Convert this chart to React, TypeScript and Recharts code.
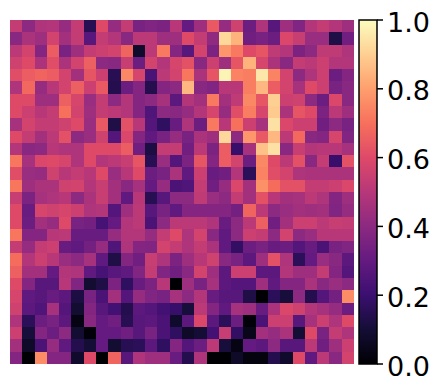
// Magma heatmap (28 x 28 cells, values 0..1) with a colourbar on the right.
import { Bar, BarChart, Scatter, ScatterChart, XAxis, YAxis } from 'recharts'

const gridSize = 28
const cellValues: number[][] = [
  [0.53, 0.40, 0.48, 0.49, 0.42, 0.53, 0.15, 0.60, 0.42, 0.53, 0.35, 0.37, 0.36, 0.50, 0.30, 0.44, 0.64, 0.42, 0.56, 0.32, 0.48, 0.27, 0.44, 0.37, 0.49, 0.53, 0.49, 0.44],
  [0.39, 0.47, 0.44, 0.57, 0.45, 0.53, 0.27, 0.53, 0.49, 0.39, 0.51, 0.51, 0.44, 0.44, 0.60, 0.53, 0.41, 0.92, 0.84, 0.33, 0.35, 0.32, 0.59, 0.54, 0.43, 0.43, 0.13, 0.33],
  [0.51, 0.57, 0.38, 0.65, 0.35, 0.44, 0.53, 0.55, 0.57, 0.67, 0.08, 0.51, 0.72, 0.38, 0.27, 0.57, 0.36, 0.78, 0.72, 0.60, 0.63, 0.52, 0.49, 0.36, 0.40, 0.52, 0.52, 0.48],
  [0.56, 0.60, 0.47, 0.61, 0.47, 0.57, 0.66, 0.40, 0.39, 0.54, 0.32, 0.57, 0.49, 0.58, 0.62, 0.39, 0.55, 0.44, 0.63, 0.84, 0.58, 0.47, 0.39, 0.53, 0.51, 0.55, 0.49, 0.49],
  [0.61, 0.65, 0.67, 0.65, 0.57, 0.45, 0.63, 0.55, 0.15, 0.75, 0.58, 0.24, 0.51, 0.57, 0.71, 0.47, 0.63, 0.98, 0.74, 0.73, 0.95, 0.74, 0.57, 0.40, 0.48, 0.55, 0.32, 0.38],
  [0.48, 0.68, 0.42, 0.50, 0.57, 0.66, 0.55, 0.64, 0.14, 0.32, 0.38, 0.14, 0.38, 0.40, 0.85, 0.39, 0.37, 0.50, 0.50, 0.73, 0.85, 0.65, 0.57, 0.46, 0.60, 0.55, 0.35, 0.39],
  [0.60, 0.60, 0.44, 0.44, 0.66, 0.58, 0.43, 0.53, 0.40, 0.49, 0.38, 0.40, 0.46, 0.28, 0.49, 0.45, 0.72, 0.45, 0.52, 0.75, 0.63, 0.90, 0.55, 0.56, 0.40, 0.32, 0.59, 0.39],
  [0.60, 0.55, 0.50, 0.53, 0.70, 0.57, 0.44, 0.53, 0.51, 0.49, 0.38, 0.25, 0.40, 0.39, 0.42, 0.49, 0.58, 0.42, 0.61, 0.73, 0.58, 0.89, 0.47, 0.63, 0.60, 0.36, 0.51, 0.44],
  [0.46, 0.57, 0.53, 0.53, 0.56, 0.60, 0.43, 0.64, 0.13, 0.62, 0.50, 0.26, 0.17, 0.31, 0.48, 0.32, 0.72, 0.50, 0.70, 0.55, 0.46, 0.94, 0.59, 0.55, 0.55, 0.33, 0.40, 0.35],
  [0.60, 0.53, 0.45, 0.51, 0.62, 0.40, 0.43, 0.56, 0.26, 0.59, 0.38, 0.29, 0.35, 0.42, 0.35, 0.47, 0.44, 0.92, 0.40, 0.78, 0.64, 0.85, 0.51, 0.68, 0.39, 0.38, 0.58, 0.37],
  [0.49, 0.39, 0.40, 0.50, 0.48, 0.48, 0.60, 0.60, 0.60, 0.65, 0.33, 0.12, 0.53, 0.53, 0.33, 0.51, 0.36, 0.65, 0.19, 0.46, 0.87, 0.94, 0.39, 0.54, 0.49, 0.50, 0.50, 0.46],
  [0.71, 0.46, 0.59, 0.60, 0.58, 0.48, 0.60, 0.49, 0.51, 0.54, 0.63, 0.15, 0.43, 0.26, 0.36, 0.63, 0.38, 0.65, 0.57, 0.32, 0.75, 0.60, 0.51, 0.62, 0.39, 0.53, 0.19, 0.62],
  [0.61, 0.43, 0.42, 0.56, 0.50, 0.53, 0.50, 0.60, 0.43, 0.50, 0.60, 0.32, 0.35, 0.47, 0.29, 0.55, 0.31, 0.33, 0.49, 0.16, 0.74, 0.61, 0.57, 0.48, 0.47, 0.47, 0.47, 0.47],
  [0.71, 0.44, 0.47, 0.47, 0.56, 0.57, 0.49, 0.54, 0.45, 0.39, 0.46, 0.30, 0.42, 0.24, 0.25, 0.53, 0.33, 0.42, 0.59, 0.45, 0.77, 0.69, 0.62, 0.62, 0.53, 0.53, 0.55, 0.59],
  [0.54, 0.36, 0.46, 0.48, 0.50, 0.40, 0.47, 0.54, 0.45, 0.29, 0.50, 0.15, 0.27, 0.40, 0.40, 0.52, 0.43, 0.40, 0.53, 0.45, 0.62, 0.50, 0.45, 0.46, 0.51, 0.48, 0.38, 0.44],
  [0.60, 0.31, 0.58, 0.56, 0.58, 0.55, 0.48, 0.49, 0.26, 0.44, 0.51, 0.27, 0.35, 0.29, 0.38, 0.38, 0.38, 0.38, 0.34, 0.67, 0.51, 0.40, 0.43, 0.45, 0.44, 0.45, 0.37, 0.42],
  [0.60, 0.32, 0.45, 0.42, 0.60, 0.35, 0.34, 0.23, 0.30, 0.49, 0.51, 0.24, 0.40, 0.51, 0.51, 0.51, 0.48, 0.31, 0.40, 0.51, 0.66, 0.33, 0.45, 0.55, 0.55, 0.51, 0.54, 0.53],
  [0.71, 0.38, 0.38, 0.50, 0.51, 0.31, 0.31, 0.31, 0.42, 0.49, 0.49, 0.42, 0.53, 0.60, 0.48, 0.57, 0.39, 0.29, 0.40, 0.55, 0.53, 0.40, 0.57, 0.40, 0.43, 0.50, 0.50, 0.50],
  [0.53, 0.42, 0.53, 0.55, 0.31, 0.29, 0.34, 0.42, 0.25, 0.48, 0.38, 0.37, 0.57, 0.53, 0.48, 0.53, 0.47, 0.29, 0.18, 0.32, 0.35, 0.31, 0.32, 0.26, 0.31, 0.24, 0.35, 0.37],
  [0.69, 0.49, 0.55, 0.50, 0.43, 0.40, 0.46, 0.29, 0.13, 0.38, 0.33, 0.54, 0.48, 0.36, 0.44, 0.50, 0.56, 0.39, 0.35, 0.28, 0.44, 0.62, 0.48, 0.16, 0.30, 0.43, 0.39, 0.28],
  [0.66, 0.45, 0.45, 0.30, 0.49, 0.48, 0.29, 0.23, 0.27, 0.29, 0.37, 0.53, 0.37, 0.33, 0.39, 0.57, 0.44, 0.28, 0.55, 0.55, 0.28, 0.28, 0.49, 0.44, 0.44, 0.53, 0.38, 0.26],
  [0.60, 0.38, 0.27, 0.27, 0.50, 0.37, 0.09, 0.13, 0.36, 0.17, 0.31, 0.36, 0.50, 0.00, 0.44, 0.35, 0.46, 0.28, 0.26, 0.26, 0.44, 0.29, 0.38, 0.38, 0.47, 0.39, 0.43, 0.40],
  [0.58, 0.29, 0.27, 0.31, 0.28, 0.12, 0.35, 0.24, 0.45, 0.26, 0.42, 0.37, 0.35, 0.46, 0.40, 0.49, 0.31, 0.27, 0.27, 0.13, 0.00, 0.16, 0.11, 0.40, 0.14, 0.26, 0.34, 0.76],
  [0.56, 0.28, 0.25, 0.46, 0.26, 0.09, 0.38, 0.27, 0.22, 0.14, 0.28, 0.26, 0.22, 0.19, 0.11, 0.51, 0.38, 0.29, 0.46, 0.44, 0.31, 0.47, 0.59, 0.56, 0.49, 0.46, 0.42, 0.32],
  [0.48, 0.16, 0.32, 0.35, 0.28, 0.03, 0.39, 0.30, 0.33, 0.15, 0.27, 0.28, 0.24, 0.08, 0.28, 0.59, 0.28, 0.16, 0.32, 0.01, 0.24, 0.55, 0.55, 0.27, 0.46, 0.55, 0.48, 0.60],
  [0.55, 0.11, 0.38, 0.32, 0.40, 0.09, 0.01, 0.30, 0.30, 0.33, 0.27, 0.35, 0.24, 0.17, 0.07, 0.10, 0.22, 0.54, 0.18, 0.04, 0.45, 0.42, 0.47, 0.10, 0.60, 0.35, 0.53, 0.48],
  [0.45, 0.07, 0.24, 0.42, 0.29, 0.14, 0.10, 0.30, 0.09, 0.15, 0.16, 0.28, 0.17, 0.38, 0.26, 0.32, 0.51, 0.11, 0.03, 0.30, 0.28, 0.40, 0.27, 0.27, 0.51, 0.33, 0.44, 0.55],
  [0.38, 0.00, 0.76, 0.38, 0.38, 0.08, 0.60, 0.00, 0.67, 0.27, 0.48, 0.44, 0.44, 0.31, 0.14, 0.48, 0.00, 0.00, 0.07, 0.02, 0.02, 0.14, 0.08, 0.60, 0.29, 0.51, 0.39, 0.57],
]
const colorbarTicks = [0, 0.2, 0.4, 0.6, 0.8, 1]
const colorbarData = [{ name: 'scale', value: 1 }]

// matplotlib magma, sampled every 0.1
const magma = [
  '#000004', '#140e36', '#3b0f70', '#641a80', '#8c2981', '#b73779',
  '#de4968', '#f7705c', '#fe9f6d', '#fecf92', '#fcfdbf',
]

function magmaColor(v: number) {
  const pos = Math.min(Math.max(v, 0), 1) * (magma.length - 1)
  const i = Math.min(Math.floor(pos), magma.length - 2)
  const t = pos - i
  const channel = (hex: string, at: number) => parseInt(hex.slice(at, at + 2), 16)
  const mix = (at: number) =>
    Math.round(channel(magma[i], at) * (1 - t) + channel(magma[i + 1], at) * t)
  return `rgb(${mix(1)},${mix(3)},${mix(5)})`
}

const cells = cellValues.flatMap((row, r) =>
  row.map((value, c) => ({ x: c + 0.5, y: r + 0.5, value })),
)

const plotSize = 344
const cellSize = plotSize / gridSize

function HeatCell(props: any) {
  const { cx, cy, payload } = props
  return (
    <rect
      x={cx - cellSize / 2}
      y={cy - cellSize / 2}
      width={cellSize}
      height={cellSize}
      fill={magmaColor(payload.value)}
      shapeRendering="crispEdges"
    />
  )
}

export default function App() {
  return (
    <div style={{ position: 'absolute', left: 0, top: 0, width: 439, height: 391, background: '#fff', overflow: 'hidden' }}>
      <div style={{ position: 'absolute', left: 10, top: 20 }}>
        <ScatterChart width={plotSize} height={plotSize} margin={{ top: 0, right: 0, bottom: 0, left: 0 }}>
          <XAxis type="number" dataKey="x" domain={[0, gridSize]} hide />
          <YAxis type="number" dataKey="y" domain={[0, gridSize]} reversed hide />
          <Scatter data={cells} shape={HeatCell} isAnimationActive={false} />
        </ScatterChart>
      </div>
      <div style={{ position: 'absolute', left: 349, top: 5 }}>
        <BarChart
          width={90}
          height={386}
          data={colorbarData}
          margin={{ top: 15, right: 0, bottom: 27, left: 10 }}
          barCategoryGap={0}
        >
          <defs>
            <linearGradient id="magmaScale" x1="0" y1="1" x2="0" y2="0">
              {magma.map((color, i) => (
                <stop key={color} offset={i / (magma.length - 1)} stopColor={color} />
              ))}
            </linearGradient>
          </defs>
          <XAxis dataKey="name" hide />
          <YAxis
            orientation="right"
            type="number"
            domain={[0, 1]}
            ticks={colorbarTicks}
            interval={0}
            width={62}
            axisLine={false}
            tickLine={{ stroke: '#000', strokeWidth: 1.5 }}
            tickSize={6}
            tickMargin={4}
            tickFormatter={(v: number) => v.toFixed(1)}
            tick={{ fontSize: 27, fontFamily: 'DejaVu Sans', fill: '#000', dy: 2 }}
          />
          <Bar dataKey="value" fill="url(#magmaScale)" stroke="#000" strokeWidth={1.5} isAnimationActive={false} />
        </BarChart>
      </div>
    </div>
  )
}
